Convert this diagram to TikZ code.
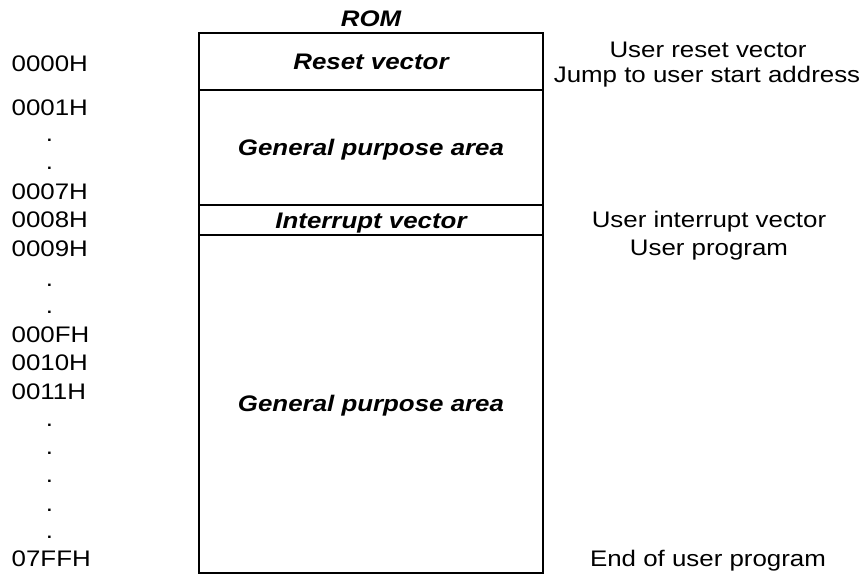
\documentclass[tikz,border=0pt]{standalone}
\usepackage{fontspec}
\setmainfont{Liberation Sans}[FakeStretch=1.15]
\usetikzlibrary{positioning}

\tikzset{
  area/.style={font=\fontsize{22.5}{27}\selectfont\bfseries\itshape, text height=16pt, text depth=0pt, inner sep=0pt},
  addr/.style={anchor=base west, inner sep=0pt},
  note/.style={anchor=base, inner sep=0pt}
}

\begin{document}
\begin{tikzpicture}[x=1pt,y=-1pt,line width=2pt,font=\fontsize{22.5}{27}\selectfont]
    \useasboundingbox (0,0) rectangle (864,574);

    % Areas
    \node[note, font=\fontsize{22.5}{27}\selectfont\bfseries\itshape] (rom) at (371,26.7) {ROM};
    \draw (199,33.3) rectangle (543,90.3) node[midway, area] (reset) {Reset vector};
    \draw (199,90.3) rectangle (543,205.3) node[midway, area] (gp1) {General purpose area};
    \draw (199,205.3) rectangle (543,234.7) node[midway, area] (intv) {Interrupt vector};
    \draw (199,234.7) rectangle (543,572.7) node[midway, area] (gp2) {General purpose area};

    % Addresses
    \foreach \y/\t [count=\i] in {71/0000H, 115.3/0001H, 199/0007H, 227.7/0008H, 256/0009H,
        342.3/000FH, 370.7/0010H, 399/0011H, 566.7/07FFH}
        \node[addr] (a\i) at (10.7,\y) {\t};
    \foreach \y [count=\i] in {140.7, 168.3, 285, 312.7, 425.7, 453.3, 481.7, 510, 537.3}
        \node[note] (d\i) at (49.5,\y+1.2) {.};

    % Notes
    \node[note] (n1) at (708,57.7) {User reset vector};
    \node[note] (n2) at (707,82.7) {Jump to user start address};
    \node[note] (n3) at (709,227.3) {User interrupt vector};
    \node[note] (n4) at (709,255.3) {User program};
    \node[note] (n5) at (708,566.3) {End of user program};
\end{tikzpicture}
\end{document}
